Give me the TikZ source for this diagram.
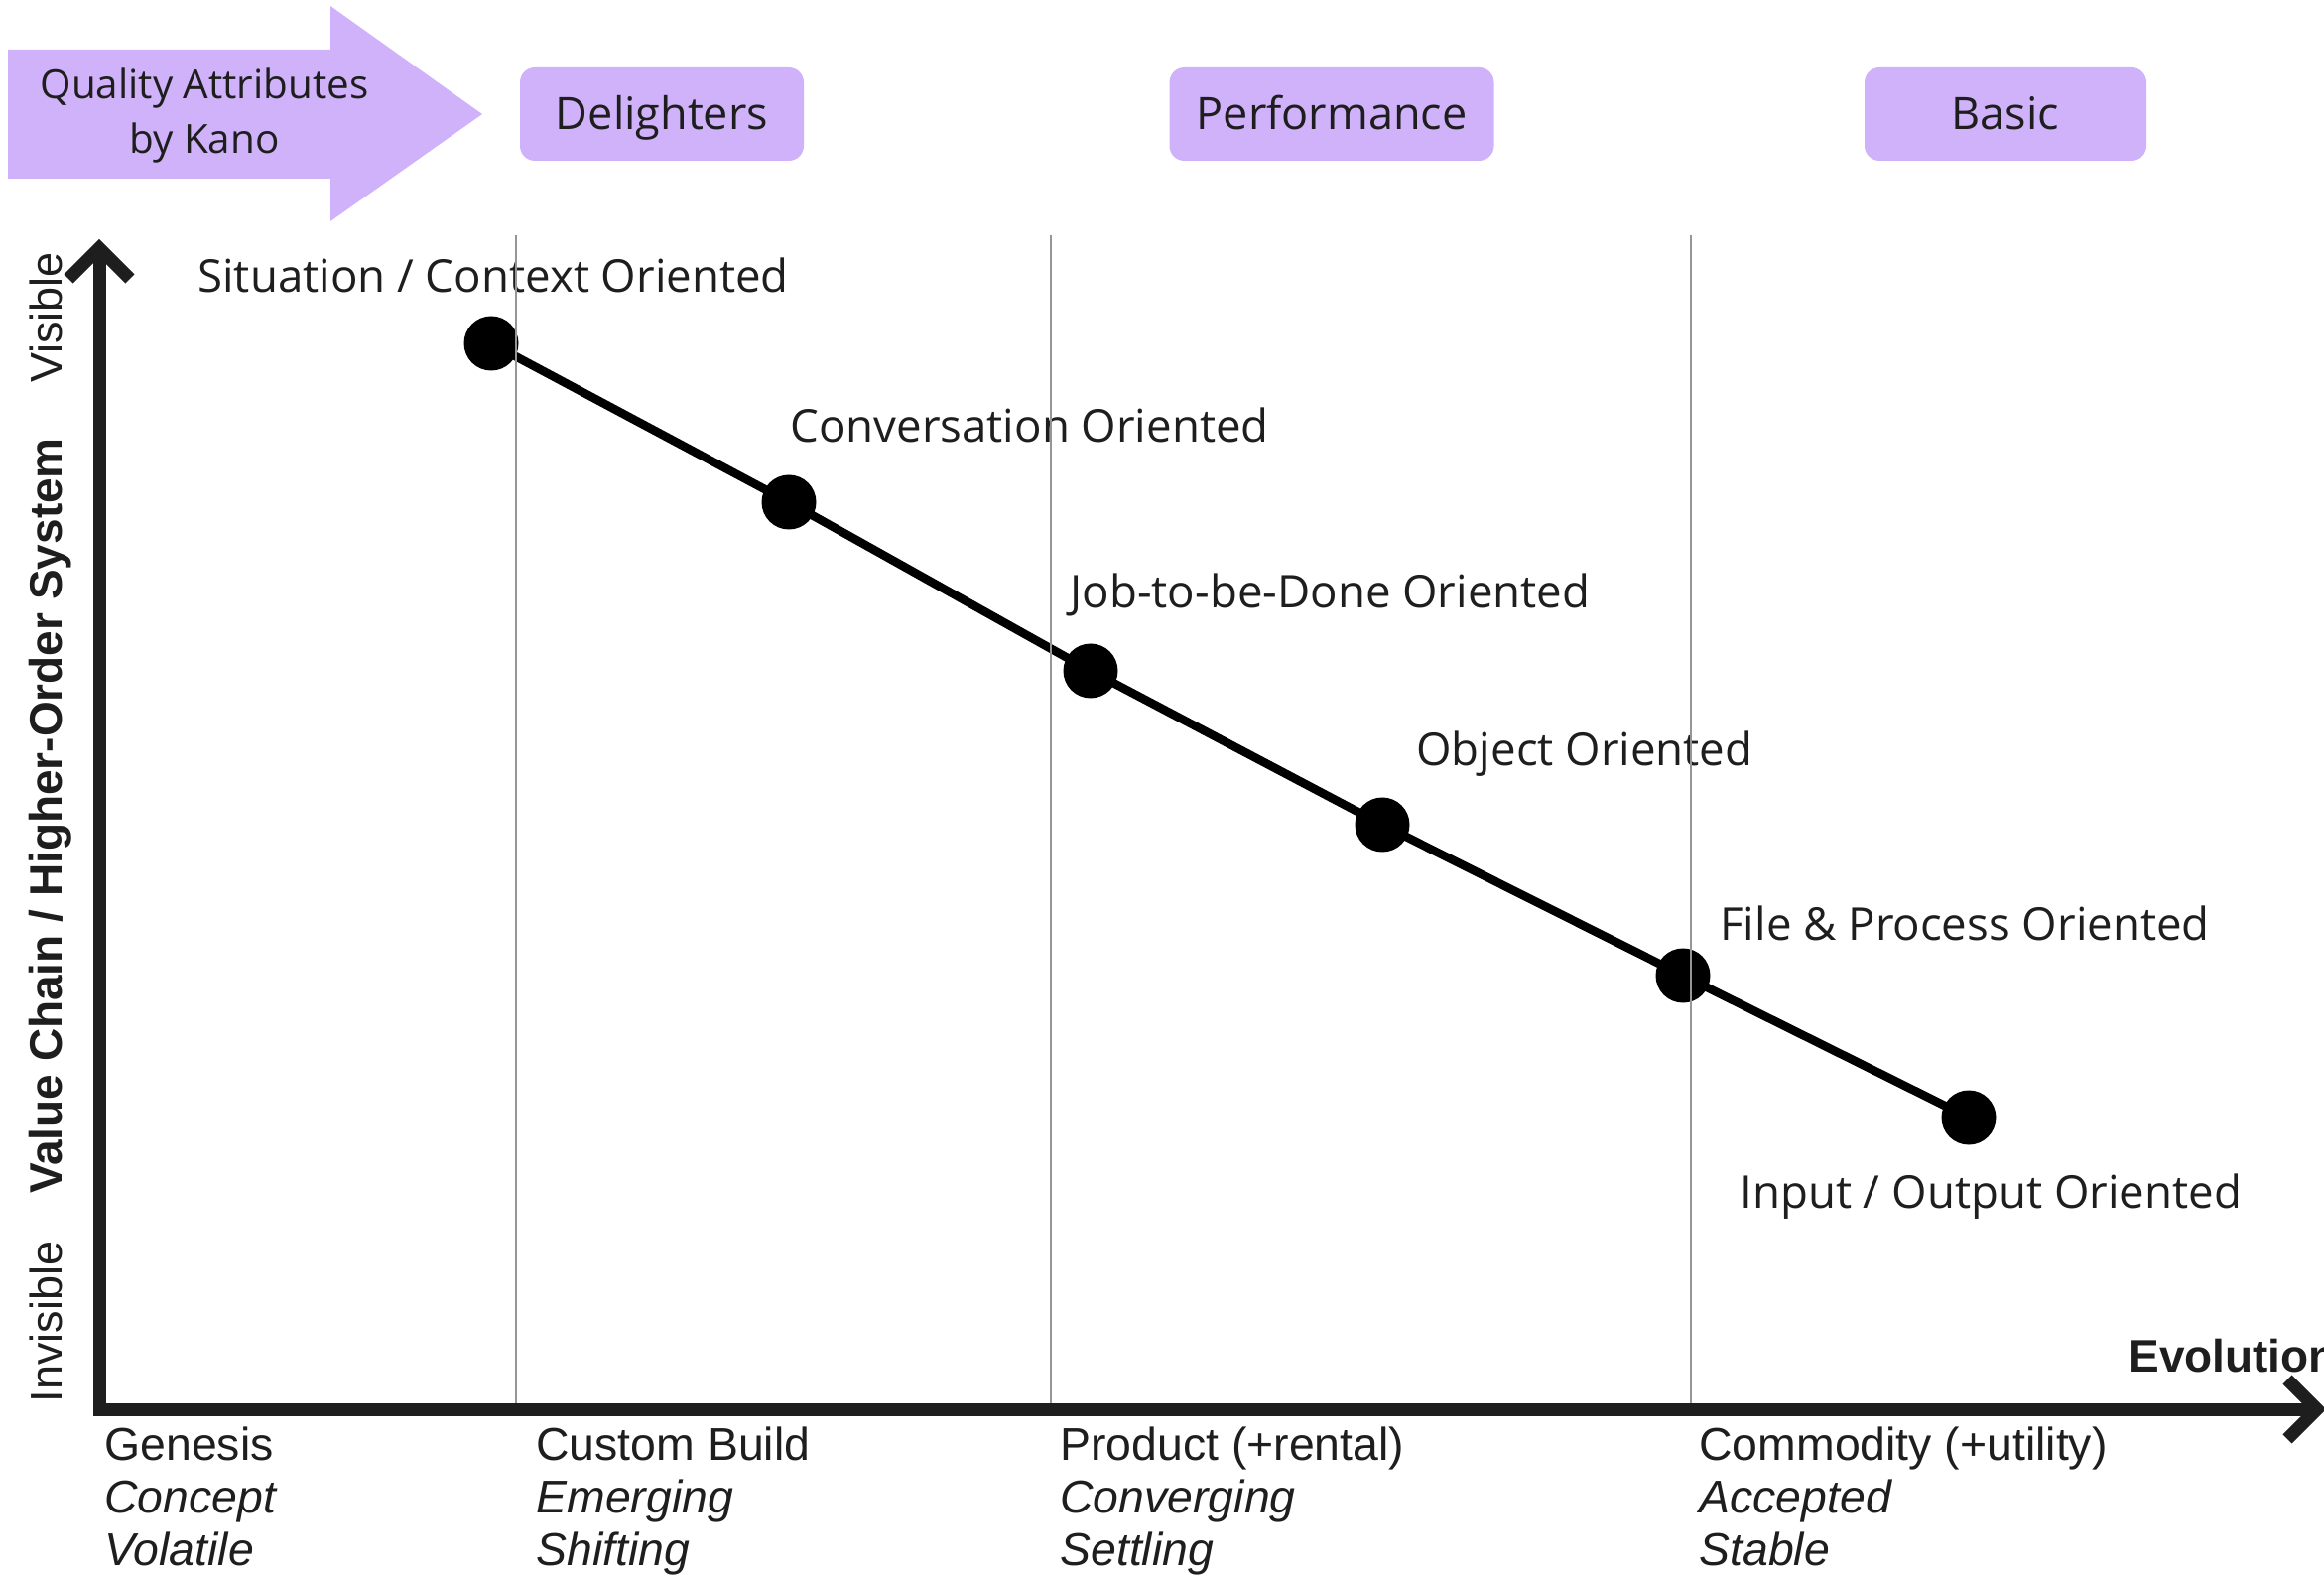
\documentclass[tikz,border=0pt]{standalone}
\usepackage{fontspec}
\setmainfont{Open Sans}
\newfontfamily\axfont{Liberation Sans}
\usetikzlibrary{backgrounds}
\definecolor{kpurple}{RGB}{208,178,250}
\definecolor{ink}{RGB}{30,30,30}
\definecolor{gridgray}{RGB}{150,150,150}
\begin{document}
\begin{tikzpicture}[x=0.5pt,y=-0.5pt,
  lbl/.style={inner sep=0pt, anchor=base west, text=ink, font=\fontsize{22.8}{27}\selectfont},
  axlbl/.style={inner sep=0pt, anchor=base west, text=ink, font=\axfont\fontsize{23.2}{27}\selectfont},
  axit/.style={axlbl, font=\axfont\itshape\fontsize{23.2}{27}\selectfont},
  axbold/.style={inner sep=0pt, text=ink, font=\axfont\bfseries\fontsize{23}{28}\selectfont},
  vlbl/.style={inner sep=0pt, rotate=90, anchor=base, text=ink, font=\axfont\fontsize{22.5}{27}\selectfont},
  dot/.style={circle, fill=black, inner sep=0pt, minimum size=27.5pt},
  kbox/.style={rounded corners=7.5pt, fill=kpurple, minimum height=47pt, inner sep=0pt,
    text height=16pt, text depth=0pt, text=ink, font=\fontsize{22.5}{27}\selectfont},
  arrtext/.style={inner sep=0pt, anchor=base, text=ink, font=\fontsize{20.2}{27}\selectfont},
  axisline/.style={draw=ink, line width=6.5pt, line join=miter},
  gridline/.style={draw=gridgray, line width=0.75pt},
  chain/.style={draw=black, line width=4.3pt}
]
\useasboundingbox (0,0) rectangle (2342,1588);

% Kano header arrow
\fill[kpurple] (8,50) -- (333,50) -- (333,6) -- (486,115) -- (333,223) -- (333,180) -- (8,180) -- cycle;
\node[arrtext] (q1) at (206,100) {Quality Attributes};
\node[arrtext] (q2) at (206,155) {by Kano};

% header boxes
\node[kbox, minimum width=143pt] (delight) at (667,115) {Delighters};
\node[kbox, minimum width=163.5pt] (perf) at (1342,115) {Performance};
\node[kbox, minimum width=142pt] (basic) at (2021,115) {Basic};

% dots
\node[dot] (d1) at (495,346) {};
\node[dot] (d2) at (795,506) {};
\node[dot] (d3) at (1099,676) {};
\node[dot] (d4) at (1393,831) {};
\node[dot] (d5) at (1696,983) {};
\node[dot] (d6) at (1984,1126) {};
\begin{scope}[on background layer]
\draw[chain] (d1.center) -- (d2.center) -- (d3.center) -- (d4.center) -- (d5.center) -- (d6.center);
\end{scope}

% labels of dots
\node[lbl] (l1) at (199,295) {Situation / Context Oriented};
\node[lbl] (l2) at (796,446) {Conversation Oriented};
\node[lbl] (l3) at (1078,613) {Job-to-be-Done Oriented};
\node[lbl] (l4) at (1427,772) {Object Oriented};
\node[lbl] (l5) at (1733,948) {File \& Process Oriented};
\node[lbl] (l6) at (1753,1217) {Input / Output Oriented};

% grid lines
\draw[gridline] (520,237) -- (520,1414);
\draw[gridline] (1059,237) -- (1059,1414);
\draw[gridline] (1704,237) -- (1704,1414);

% axes
\coordinate (ytip) at (100,250);
\coordinate (origin) at (100,1420);
\coordinate (xtip) at (2335,1420);
\draw[axisline] (ytip) -- (origin) -- (xtip);
\draw[axisline] (ytip) ++(-31,31) -- (ytip) -- ++(31,31);
\draw[axisline] (xtip) ++(-30,-30) -- (xtip) -- ++(-30,30);

% vertical axis labels
\node[vlbl] (vis) at (62,320) {Visible};
\node[axbold, rotate=90, anchor=base] (vc) at (62,822) {Value Chain / Higher-Order System};
\node[vlbl] (invis) at (62,1332) {Invisible};

% horizontal axis label
\node[axbold, anchor=base west] (evo) at (2145,1382) {Evolution};

% evolution stages
\node[axlbl] (g1) at (105,1471) {Genesis};
\node[axit] (g2) at (105,1524) {Concept};
\node[axit] (g3) at (105,1577) {Volatile};
\node[axlbl] (c1) at (540,1471) {Custom Build};
\node[axit] (c2) at (540,1524) {Emerging};
\node[axit] (c3) at (540,1577) {Shifting};
\node[axlbl] (p1) at (1068,1471) {Product (+rental)};
\node[axit] (p2) at (1068,1524) {Converging};
\node[axit] (p3) at (1068,1577) {Settling};
\node[axlbl] (m1) at (1712,1471) {Commodity (+utility)};
\node[axit] (m2) at (1712,1524) {Accepted};
\node[axit] (m3) at (1712,1577) {Stable};
\end{tikzpicture}
\end{document}
